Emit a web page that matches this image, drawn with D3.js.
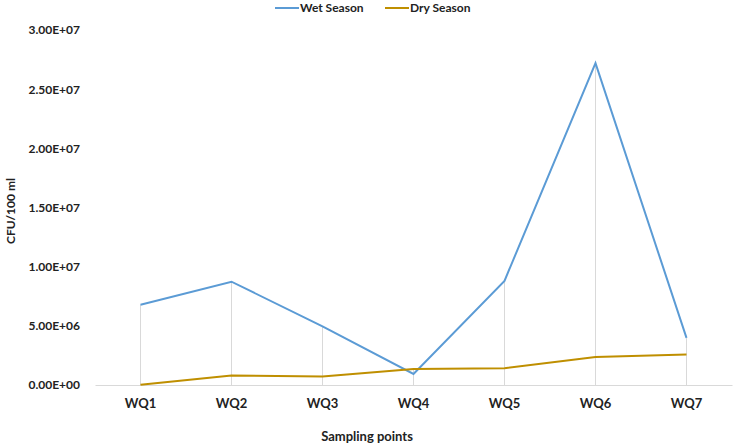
<!DOCTYPE html>
<html>
<head>
<meta charset="utf-8">
<script src="https://cdn.jsdelivr.net/npm/d3@7"></script>
<style>
  body { margin: 0; background: #fff; }
  text { font-family: Lato, "Open Sans", sans-serif; font-weight: bold; fill: #222; }
</style>
</head>
<body>
<div id="chart"></div>
<script>
// data
const points = ["WQ1", "WQ2", "WQ3", "WQ4", "WQ5", "WQ6", "WQ7"];
const wetSeason = [6.78e6, 8.73e6, 4.95e6, 0.93e6, 8.8e6, 27.2e6, 3.98e6];
const drySeason = [0.03e6, 0.8e6, 0.72e6, 1.35e6, 1.42e6, 2.36e6, 2.57e6];
const yTicks = [0, 5e6, 1e7, 1.5e7, 2e7, 2.5e7, 3e7];

const W = 735, H = 447;
const margin = { top: 30, right: 3, bottom: 62, left: 95 };

const svg = d3.select("#chart").append("svg")
  .attr("width", W).attr("height", H);

const x = d3.scaleBand()
  .domain(points)
  .range([margin.left, W - margin.right]);

const y = d3.scaleLinear()
  .domain([0, 3e7])
  .range([H - margin.bottom, margin.top]);

const cx = d => x(d) + x.bandwidth() / 2;

// drop lines
svg.append("g")
  .selectAll("line")
  .data(points)
  .join("line")
  .attr("x1", d => cx(d)).attr("x2", d => cx(d))
  .attr("y1", y(0))
  .attr("y2", (d, i) => y(Math.max(wetSeason[i], drySeason[i])))
  .attr("stroke", "#d9d9d9")
  .attr("stroke-width", 1);

// x axis
const xAxis = svg.append("g")
  .attr("transform", "translate(0," + y(0) + ")")
  .call(d3.axisBottom(x).tickSize(0).tickPadding(14));
xAxis.select(".domain").attr("stroke", "#d9d9d9");
xAxis.selectAll("text").style("font-size", "13px")
  .style("font-family", "Lato, sans-serif").style("font-weight", "bold").attr("fill", "#222");

// y axis (labels only)
const yAxis = svg.append("g")
  .attr("transform", "translate(" + (margin.left - 15) + ",0)")
  .call(d3.axisLeft(y).tickValues(yTicks).tickSize(0).tickPadding(0)
    .tickFormat(d => d === 0 ? "0.00E+00" : d3.format(".2e")(d).replace("e+", "E+0").toUpperCase()));
yAxis.select(".domain").remove();
yAxis.selectAll("text").style("font-size", "12px")
  .style("font-family", "Lato, sans-serif").style("font-weight", "bold").attr("fill", "#222");

// lines
const line = d3.line()
  .x((d, i) => cx(points[i]))
  .y(d => y(d));

svg.append("path")
  .datum(wetSeason)
  .attr("d", line)
  .attr("fill", "none")
  .attr("stroke", "#5b9bd5")
  .attr("stroke-width", 2);

svg.append("path")
  .datum(drySeason)
  .attr("d", line)
  .attr("fill", "none")
  .attr("stroke", "#bf8f00")
  .attr("stroke-width", 2);

// axis titles
svg.append("text")
  .attr("x", 367)
  .attr("y", 441)
  .attr("text-anchor", "middle")
  .style("font-size", "13px")
  .text("Sampling points");

svg.append("text")
  .attr("transform", "translate(15,211) rotate(-90)")
  .attr("text-anchor", "middle")
  .style("font-size", "12px")
  .text("CFU/100 ml");

// legend
const legend = [
  { name: "Wet Season", color: "#5b9bd5", x: 275 },
  { name: "Dry Season", color: "#bf8f00", x: 385 }
];
const lg = svg.append("g").selectAll("g").data(legend).join("g")
  .attr("transform", d => "translate(" + d.x + ",8)");
lg.append("line")
  .attr("x1", 0).attr("x2", 24)
  .attr("stroke", d => d.color).attr("stroke-width", 2);
lg.append("text")
  .attr("x", 25).attr("dy", "0.35em")
  .style("font-size", "12px")
  .text(d => d.name);
</script>
</body>
</html>
